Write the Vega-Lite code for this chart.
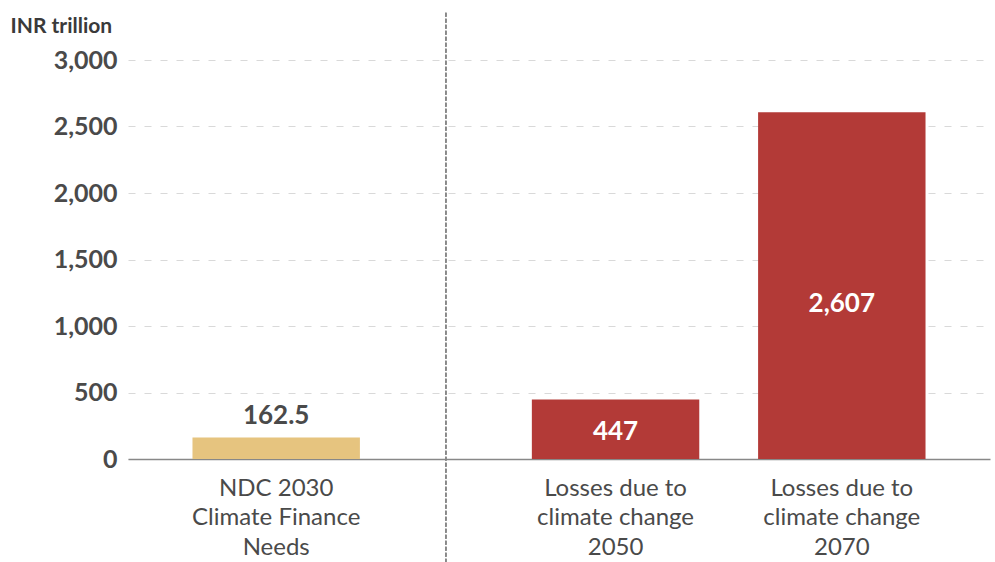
{
  "$schema": "https://vega.github.io/schema/vega-lite/v6.json",
  "width": 862,
  "height": 399,
  "autosize": {"type": "none"},
  "padding": {"left": 128, "top": 60, "right": 5, "bottom": 103},
  "background": "white",
  "config": {
    "view": {"stroke": null},
    "font": "Lato"
  },
  "data": {
    "values": [
      {"category": "NDC 2030|Climate Finance|Needs", "value": 162.5, "group": "need"},
      {"category": "Losses due to|climate change|2050", "value": 447, "group": "loss"},
      {"category": "Losses due to|climate change|2070", "value": 2607, "group": "loss"}
    ]
  },
  "encoding": {
    "x": {
      "field": "category",
      "type": "nominal",
      "sort": null,
      "scale": {
        "type": "band",
        "domain": ["NDC 2030|Climate Finance|Needs", "_1", "_2", "Losses due to|climate change|2050", "_3", "Losses due to|climate change|2070"],
        "paddingInner": 0,
        "paddingOuter": 0.81
      },
      "axis": {
        "title": null,
        "labelAngle": 0,
        "labelExpr": "indexof(datum.label, '_') == 0 ? '' : split(datum.label, '|')",
        "labelFont": "Lato",
        "labelFontSize": 24,
        "labelColor": "#4a4a4a",
        "labelLineHeight": 29.5,
        "labelPadding": 17,
        "labelBaseline": "top",
        "ticks": false,
        "domainColor": "#888888",
        "domainWidth": 1.5,
        "grid": false
      }
    }
  },
  "layer": [
    {
      "mark": {"type": "bar", "width": {"band": 1.48}},
      "encoding": {
        "y": {
          "field": "value",
          "type": "quantitative",
          "scale": {"domain": [0, 3000], "nice": false},
          "axis": {
            "title": "INR trillion",
            "titleAngle": 0,
            "titleAlign": "left",
            "titleBaseline": "alphabetic",
            "titleX": -118,
            "titleY": -28,
            "titleFont": "Lato",
            "titleFontSize": 21,
            "titleFontWeight": "bold",
            "titleColor": "#3a3a3a",
            "values": [0, 500, 1000, 1500, 2000, 2500, 3000],
            "format": ",.0f",
            "labelFont": "Lato",
            "labelFontSize": 25,
            "labelFontWeight": "bold",
            "labelColor": "#4a4a4a",
            "labelPadding": 11,
            "ticks": false,
            "domain": false,
            "grid": true,
            "gridColor": "#d9d9d9",
            "gridDash": [7, 9],
            "gridWidth": 1
          }
        },
        "color": {
          "field": "group",
          "type": "nominal",
          "scale": {"domain": ["need", "loss"], "range": ["#E6C47F", "#B33A37"]},
          "legend": null
        }
      }
    },
    {
      "transform": [{"filter": "datum.group == 'need'"}],
      "mark": {"type": "text", "baseline": "alphabetic", "dy": -13, "fontSize": 26, "fontWeight": "bold", "color": "#4a4a4a", "font": "Lato"},
      "encoding": {
        "y": {"field": "value", "type": "quantitative"},
        "text": {"field": "value", "type": "quantitative", "format": ","}
      }
    },
    {
      "transform": [{"filter": "datum.group == 'loss'"}, {"calculate": "datum.value * 0.447", "as": "labelPos"}],
      "mark": {"type": "text", "baseline": "middle", "fontSize": 26, "fontWeight": "bold", "color": "white", "font": "Lato"},
      "encoding": {
        "y": {"field": "labelPos", "type": "quantitative"},
        "text": {"field": "value", "type": "quantitative", "format": ","}
      }
    },
    {
      "mark": {"type": "rule", "color": "#888888", "strokeDash": [4, 2], "strokeWidth": 1.5, "clip": false},
      "encoding": {
        "x": {"datum": "_2", "bandPosition": 0},
        "y": {"datum": 3355},
        "y2": {"datum": -790}
      }
    }
  ]
}
